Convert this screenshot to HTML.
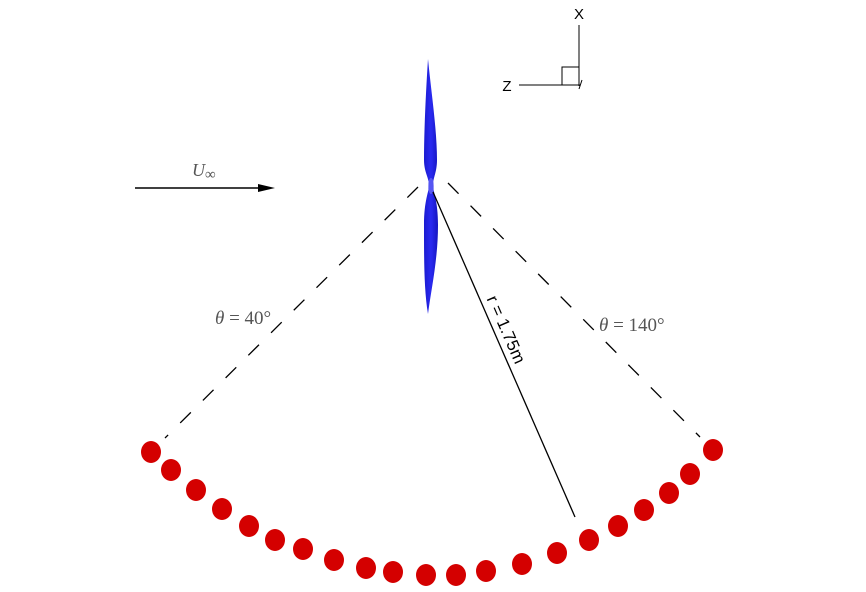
<!DOCTYPE html>
<html><head><meta charset="utf-8"><style>
html,body{margin:0;padding:0;background:#fff;}
svg{display:block}
</style></head><body>
<svg width="866" height="592" viewBox="0 0 866 592" xmlns="http://www.w3.org/2000/svg">
<defs>
<linearGradient id="bl" x1="0" x2="1" y1="0" y2="0">
<stop offset="0" stop-color="#1a1ad0"/><stop offset="0.5" stop-color="#2a2af0"/><stop offset="1" stop-color="#1515c0"/>
</linearGradient>
</defs>
<path d="M428,59 C431,90 437,130 437,160 C437,172 433,178 433,185 C433,192 438,200 438,225 C438,260 431,290 428,314 C424,290 424,260 424,225 C424,200 429,192 429,185 C429,178 424,172 424,160 C424,130 426,90 428,59 Z" fill="url(#bl)"/>
<ellipse cx="431" cy="186" rx="3" ry="8" fill="#6a6af5" opacity="0.7"/>
<line x1="418" y1="187" x2="165" y2="438" stroke="#000" stroke-width="1.3" stroke-dasharray="15 17"/>
<line x1="448" y1="183" x2="700" y2="437" stroke="#000" stroke-width="1.3" stroke-dasharray="15 17"/>
<line x1="433" y1="192" x2="575" y2="517" stroke="#000" stroke-width="1.3"/>
<text x="0" y="0" transform="translate(505,330) rotate(66.4)" text-anchor="middle" dominant-baseline="middle" font-family="Liberation Sans, sans-serif" font-size="17" fill="#000">r = 1.75m</text>
<line x1="135" y1="188" x2="262" y2="188" stroke="#000" stroke-width="1.5"/>
<polygon points="275,188 258,184 258,192" fill="#000"/>
<text x="192" y="176" font-family="Liberation Serif, serif" font-style="italic" font-size="18" fill="#555">U</text>
<text x="205" y="179" font-family="Liberation Serif, serif" font-size="15" fill="#555">∞</text>
<text x="215" y="324" font-family="Liberation Serif, serif" font-size="19" fill="#555"><tspan font-style="italic">θ</tspan> = 40°</text>
<text x="599" y="331" font-family="Liberation Serif, serif" font-size="19" fill="#555"><tspan font-style="italic">θ</tspan> = 140°</text>
<line x1="579" y1="25" x2="579" y2="86" stroke="#000" stroke-width="1"/>
<line x1="519" y1="85" x2="580" y2="85" stroke="#000" stroke-width="1"/>
<polyline points="562,85 562,67 579,67" fill="none" stroke="#000" stroke-width="1"/>
<line x1="582" y1="80" x2="579" y2="89" stroke="#000" stroke-width="1"/>
<text x="579" y="19" text-anchor="middle" font-family="Liberation Sans, sans-serif" font-size="15" fill="#000">X</text>
<text x="507" y="91" text-anchor="middle" font-family="Liberation Sans, sans-serif" font-size="15" fill="#000">Z</text>
<g fill="#d40000">
<ellipse cx="151" cy="452" rx="10" ry="11"/>
<ellipse cx="171" cy="470" rx="10" ry="11"/>
<ellipse cx="196" cy="490" rx="10" ry="11"/>
<ellipse cx="222" cy="509" rx="10" ry="11"/>
<ellipse cx="249" cy="526" rx="10" ry="11"/>
<ellipse cx="275" cy="540" rx="10" ry="11"/>
<ellipse cx="303" cy="549" rx="10" ry="11"/>
<ellipse cx="334" cy="560" rx="10" ry="11"/>
<ellipse cx="366" cy="568" rx="10" ry="11"/>
<ellipse cx="393" cy="572" rx="10" ry="11"/>
<ellipse cx="426" cy="575" rx="10" ry="11"/>
<ellipse cx="456" cy="575" rx="10" ry="11"/>
<ellipse cx="486" cy="571" rx="10" ry="11"/>
<ellipse cx="522" cy="564" rx="10" ry="11"/>
<ellipse cx="557" cy="553" rx="10" ry="11"/>
<ellipse cx="589" cy="540" rx="10" ry="11"/>
<ellipse cx="618" cy="526" rx="10" ry="11"/>
<ellipse cx="644" cy="510" rx="10" ry="11"/>
<ellipse cx="669" cy="493" rx="10" ry="11"/>
<ellipse cx="690" cy="474" rx="10" ry="11"/>
<ellipse cx="713" cy="450" rx="10" ry="11"/>
</g>
</svg>
</body></html>
